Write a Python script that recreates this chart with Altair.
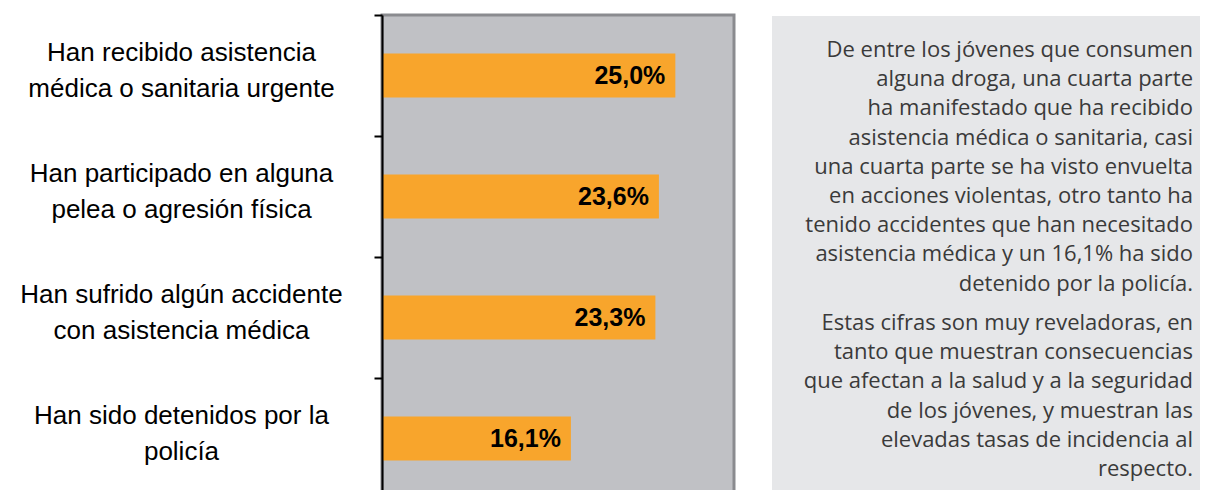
import altair as alt
import pandas as pd

categories = [
    "Han recibido asistencia|médica o sanitaria urgente",
    "Han participado en alguna|pelea o agresión física",
    "Han sufrido algún accidente|con asistencia médica",
    "Han sido detenidos por la|policía",
]
values = [25.0, 23.6, 23.3, 16.1]
value_labels = ["25,0%", "23,6%", "23,3%", "16,1%"]
x_domain = [0, 30]

para1 = [
    "De entre los jóvenes que consumen",
    "alguna droga, una cuarta parte",
    "ha manifestado que ha recibido",
    "asistencia médica o sanitaria, casi",
    "una cuarta parte se ha visto envuelta",
    "en acciones violentas, otro tanto ha",
    "tenido accidentes que han necesitado",
    "asistencia médica y un 16,1% ha sido",
    "detenido por la policía.",
]
para2 = [
    "Estas cifras son muy reveladoras, en",
    "tanto que muestran consecuencias",
    "que afectan a la salud y a la seguridad",
    "de los jóvenes, y muestran las",
    "elevadas tasas de incidencia al",
    "respecto.",
]

df = pd.DataFrame({"cat": categories, "val": values, "lbl": value_labels})
one = pd.DataFrame({"k": [0]})

W, H = 352, 484

y_enc = alt.Y(
    "cat:N",
    sort=categories,
    scale=alt.Scale(domain=categories, paddingInner=0, paddingOuter=0),
    axis=alt.Axis(
        title=None,
        labelExpr="split(datum.label, '|')",
        labelFont="Liberation Sans",
        labelFontSize=26,
        labelColor="black",
        labelAlign="center",
        labelBaseline="middle",
        labelPadding=193,
        labelLineHeight=36,
        labelLimit=0,
        labelOffset=-23,
        domainColor="black",
        domainWidth=2,
        tickColor="black",
        tickWidth=2,
        tickSize=8,
        tickBand="extent",
        grid=False,
        zindex=1,
    ),
)
x_enc = alt.X("val:Q", scale=alt.Scale(domain=x_domain), axis=None)

plot_bg = alt.Chart(one).mark_rect(fill="#C0C1C5", stroke="#8A8B8F", strokeWidth=3).encode(
    x=alt.value(0), x2=alt.value(W), y=alt.value(0), y2=alt.value(H)
)

bars = alt.Chart(df).mark_bar(color="#F8A52C", height=44).encode(x=x_enc, y=y_enc)

bar_text = alt.Chart(df).mark_text(
    align="right", baseline="middle", dx=-10,
    font="Liberation Sans", fontWeight="bold", fontSize=25, color="black",
).encode(x=x_enc, y=y_enc, text="lbl:N")

box = alt.Chart(one).mark_rect(fill="#E6E7E9").encode(
    x=alt.value(390), x2=alt.value(830), y=alt.value(1), y2=alt.value(H)
)

txt_kw = dict(align="right", baseline="alphabetic", font="Open Sans", fontSize=22,
              lineHeight=29.2, color="#3A3A3A")
p1 = alt.Chart(one).mark_text(text=para1, **txt_kw).encode(
    x=alt.value(811), y=alt.value(42)
)
p2 = alt.Chart(one).mark_text(text=para2, **txt_kw).encode(
    x=alt.value(811), y=alt.value(315)
)

chart = alt.layer(plot_bg, bars, bar_text, box, p1, p2).properties(
    width=W, height=H,
    autosize=alt.AutoSizeParams(type="none"),
    padding={"left": 374, "top": 7, "right": 466, "bottom": 0},
    background="white",
).configure_view(stroke=None, fill=None)

chart.save("out.html", embed_options={"renderer": "svg", "actions": False})
